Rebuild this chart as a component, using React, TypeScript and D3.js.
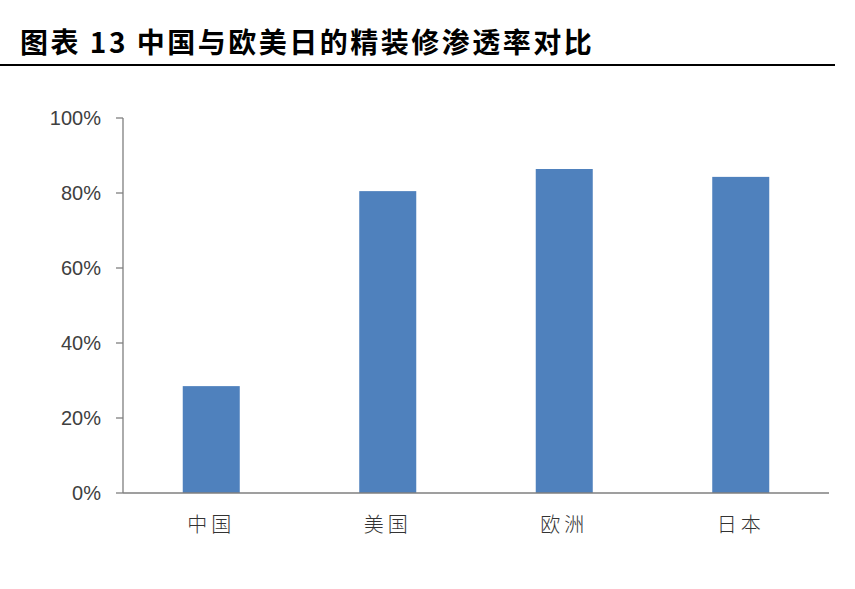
import * as d3 from "d3";

const categories = ["中国", "美国", "欧洲", "日本"];
const rates = [0.285, 0.805, 0.864, 0.843];
const yTicks = [0, 0.2, 0.4, 0.6, 0.8, 1.0];
const title = "图表 13 中国与欧美日的精装修渗透率对比";

export default function App() {
    const width = 855;
    const height = 589;
    const marginLeft = 123;
    const marginRight = 26;
    const plotTop = 118;
    const plotBottom = 493;

    const x = d3.scaleBand<string>().domain(categories).range([marginLeft, width - marginRight]).padding(0);
    const y = d3.scaleLinear().domain([0, 1]).range([plotBottom, plotTop]);
    const barW = x.bandwidth() * 0.323;
    const fmt = d3.format(".0%");

    return (
        <svg width={width} height={height} style={{ position: "absolute", left: 0, top: 0, background: "#fff" }}>
            <text x={20} y={53} fontSize={28} fontWeight="bold" fill="#000"
                fontFamily="'Noto Sans CJK SC', sans-serif" letterSpacing={2.5}>{title}</text>
            <line x1={0} x2={835} y1={65} y2={65} stroke="#000" strokeWidth={2.2} />

            <g>
                {categories.map((c, i) => (
                    <rect key={c} x={(x(c) ?? 0) + x.bandwidth() / 2 - barW / 2} y={y(rates[i])}
                        width={barW} height={y(0) - y(rates[i])} fill="#4F81BD" />
                ))}
            </g>

            <line x1={marginLeft} x2={marginLeft} y1={plotTop} y2={plotBottom} stroke="#7f7f7f" strokeWidth={1.3} />
            <line x1={marginLeft} x2={width - marginRight} y1={plotBottom} y2={plotBottom} stroke="#7f7f7f" strokeWidth={1.3} />
            {yTicks.map((t) => (
                <g key={t}>
                    <line x1={marginLeft - 7} x2={marginLeft} y1={y(t)} y2={y(t)} stroke="#7f7f7f" strokeWidth={1.3} />
                    <text x={101} y={y(t)} dy="0.35em" textAnchor="end" fontSize={20} fill="#404040"
                        fontFamily="'Liberation Sans', sans-serif">{fmt(t)}</text>
                </g>
            ))}
            {categories.map((c) => (
                <text key={c} x={(x(c) ?? 0) + x.bandwidth() / 2} y={525} dy="0.35em" textAnchor="middle"
                    fontSize={20} fill="#333" letterSpacing={4}
                    fontFamily="'Noto Sans CJK SC', sans-serif" fontWeight={300}>{c}</text>
            ))}
        </svg>
    );
}
